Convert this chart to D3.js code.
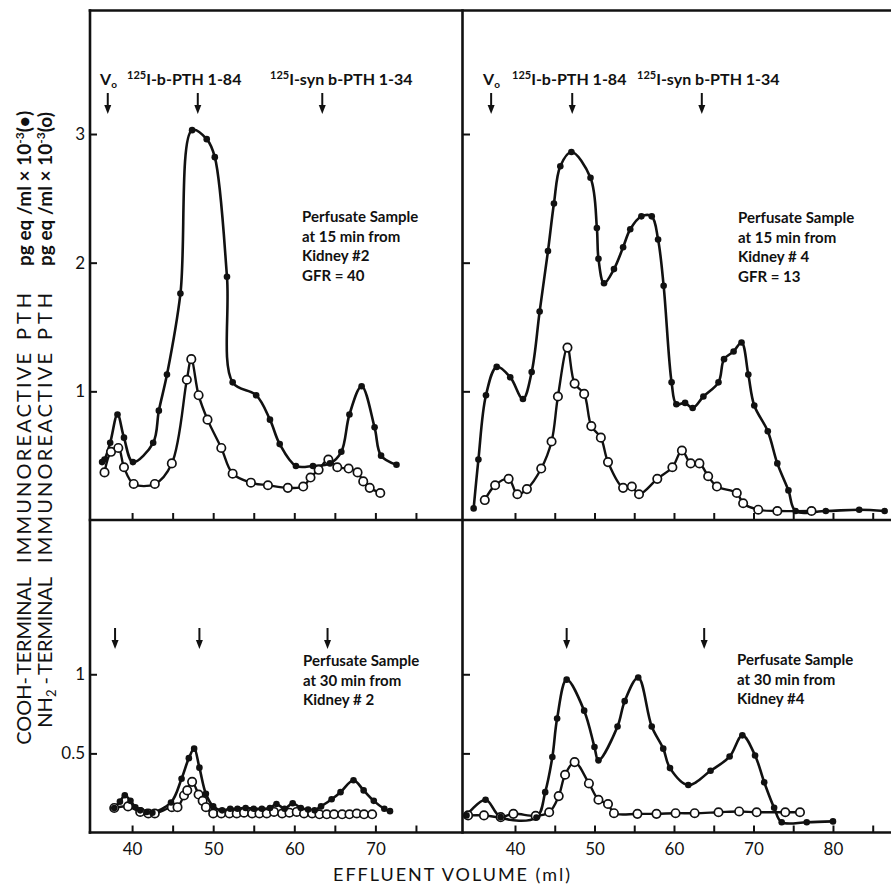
<!DOCTYPE html>
<html>
<head>
<meta charset="utf-8">
<script src="https://cdn.jsdelivr.net/npm/d3@7"></script>
<style>
  body { margin: 0; background: #fff; }
  svg { display: block; }
  text { font-family: Lato, "DejaVu Sans", sans-serif; fill: #111; }
</style>
</head>
<body>
<svg id="chart" width="891" height="884"></svg>
<script>
// values: [effluent volume (ml), pg eq/ml x 10^-3]
// top left: kidney #2, 15 min
var tlCooh = [[36.3,0.45],[36.6,0.47],[37.3,0.60],[38.2,0.82],[39.0,0.64],[40.1,0.45],[42.6,0.60],
  [43.3,0.85],[44.3,1.13],[45.96,1.76],[47.4,3.03],[49.2,2.96],[50.2,2.82],[51.7,1.89],[52.4,1.07],
  [55.3,0.97],[57.0,0.78],[58.2,0.59],[60.2,0.42],[62.3,0.42],[64.4,0.44],[65.8,0.53],[66.8,0.82],
  [68.3,1.04],[69.9,0.72],[70.7,0.50],[72.6,0.43]];
var tlNh2 = [[36.6,0.37],[37.4,0.53],[38.3,0.56],[39.0,0.41],[40.2,0.28],[42.8,0.28],[44.9,0.44],
  [46.75,1.09],[47.3,1.25],[48.2,0.97],[49.3,0.78],[51.0,0.56],[52.4,0.36],[54.65,0.29],[56.75,0.27],
  [59.2,0.25],[61.1,0.26],[62.0,0.33],[63.0,0.39],[64.2,0.47],[65.3,0.41],[66.7,0.40],[67.8,0.37],
  [68.5,0.30],[69.3,0.25],[70.6,0.21]];

// top right: kidney #4, 15 min
var trCooh = [[34.8,0.09],[35.4,0.47],[36.35,0.97],[37.7,1.19],[39.4,1.11],[41.0,0.94],[42.1,1.15],
  [43.1,1.62],[44.15,2.09],[44.9,2.46],[45.7,2.75],[47.1,2.86],[49.5,2.66],[50.3,2.27],[50.5,2.03],
  [51.2,1.84],[52.45,1.95],[53.6,2.12],[54.5,2.26],[55.9,2.36],[57.2,2.36],[58.0,2.18],[58.7,1.82],
  [59.7,1.07],[60.3,0.90],[61.4,0.91],[62.35,0.87],[63.7,0.96],[65.6,1.07],[66.3,1.25],[67.5,1.31],
  [68.5,1.38],[69.35,1.13],[70.1,0.89],[71.8,0.69],[73.0,0.44],[74.4,0.23],[75.3,0.07],[79.1,0.07],
  [83.3,0.08],[86.5,0.07]];
var trNh2 = [[36.2,0.155],[37.5,0.27],[39.2,0.32],[40.3,0.20],[41.5,0.24],[43.3,0.40],[44.6,0.61],
  [45.4,0.96],[46.6,1.34],[47.5,1.06],[48.7,0.98],[49.6,0.73],[50.8,0.64],[51.7,0.45],[53.6,0.25],
  [54.7,0.26],[55.6,0.20],[57.9,0.32],[59.8,0.41],[61.0,0.54],[62.1,0.44],[63.2,0.44],[64.3,0.34],
  [65.4,0.26],[67.9,0.21],[68.7,0.13],[70.6,0.08],[73.0,0.07],[77.3,0.07]];

// bottom left: kidney #2, 30 min
var blCooh = [[37.8,0.155],[38.5,0.195],[39.1,0.235],[39.8,0.20],[40.4,0.16],[41.0,0.14],[41.8,0.13],
  [42.5,0.125],[44.8,0.19],[46.1,0.34],[47.0,0.47],[47.65,0.53],[48.3,0.41],[49.1,0.245],[50.0,0.165],
  [51.1,0.14],[52.1,0.15],[53.0,0.15],[54.0,0.155],[55.0,0.15],[56.0,0.15],[57.0,0.155],[57.8,0.18],
  [58.8,0.15],[59.8,0.185],[60.8,0.155],[61.7,0.145],[62.5,0.14],[63.3,0.165],[64.6,0.21],[65.7,0.255],
  [67.3,0.33],[68.55,0.266],[69.8,0.20],[71.1,0.15],[71.8,0.135]];
var blNh2 = [[37.8,0.155],[39.5,0.165],[41.0,0.13],[42.0,0.12],[42.8,0.12],[44.9,0.16],[45.6,0.16],
  [46.4,0.234],[46.8,0.266],[47.4,0.32],[48.2,0.24],[48.7,0.20],[49.1,0.16],[50.0,0.12],[51.0,0.12],
  [52.0,0.12],[52.9,0.12],[53.8,0.125],[54.8,0.12],[55.7,0.12],[56.6,0.12],[57.5,0.13],[58.5,0.12],
  [59.4,0.125],[60.3,0.13],[61.2,0.12],[62.2,0.12],[63.1,0.115],[64.0,0.115],[64.9,0.115],[65.9,0.115],
  [66.8,0.115],[67.7,0.12],[68.6,0.115],[69.6,0.115]];

// bottom right: kidney #4, 30 min
var brCooh = [[33.9,0.108],[36.3,0.207],[38.2,0.097],[42.7,0.095],[43.8,0.255],[44.7,0.477],[45.3,0.72],
  [46.5,0.966],[48.7,0.77],[50.0,0.54],[50.5,0.456],[52.9,0.67],[53.8,0.83],[55.5,0.98],[57.2,0.67],
  [58.65,0.53],[59.5,0.407],[61.8,0.30],[64.6,0.39],[67.0,0.48],[68.6,0.614],[70.2,0.487],[71.35,0.318],
  [72.6,0.156],[73.55,0.065],[76.7,0.065],[80.0,0.07]];
var brNh2 = [[34.1,0.108],[36.1,0.108],[38.2,0.097],[39.8,0.118],[42.6,0.105],[44.3,0.128],[45.5,0.23],
  [46.3,0.365],[47.5,0.445],[49.3,0.31],[50.5,0.207],[51.7,0.18],[52.45,0.122],[55.4,0.118],[57.8,0.118],
  [60.2,0.122],[62.6,0.122],[65.6,0.128],[68.2,0.133],[70.4,0.128],[74.0,0.128],[75.85,0.128]];

// elution markers (ml)
var tlArrows = [37.0, 48.1, 63.45];
var trArrows = [37.0, 47.2, 63.5];
var blArrows = [37.9, 48.3, 64.1];
var brArrows = [46.5, 63.8];

var xTicksLeft = [40, 45, 50, 55, 60, 65, 70, 75];
var xTicksRight = [40, 45, 50, 55, 60, 65, 70, 75, 80, 85];
var yTicksTop = [1, 2, 3];
var yTicksBottom = [0.5, 1];

var tlNote = ["Perfusate Sample", "at 15 min from", "Kidney #2", "GFR = 40"];
var trNote = ["Perfusate Sample", "at 15 min from", "Kidney # 4", "GFR = 13"];
var blNote = ["Perfusate Sample", "at 30 min from", "Kidney # 2"];
var brNote = ["Perfusate Sample", "at 30 min from", "Kidney #4"];

var svg = d3.select('#chart');

// frame geometry
var frameLeft = 90, frameMid = 462.5, frameRight = 891;
var frameTop = 10.5, frameSplit = 520, frameBottom = 832.5;

var xL = d3.scaleLinear().domain([34.81, 80.74]).range([frameLeft, frameMid]);
var xR = d3.scaleLinear().domain([33.46, 87.3]).range([frameMid + 0.5, frameRight]);
var yT = d3.scaleLinear().domain([0, 3.96]).range([frameSplit, frameTop]);
var yB = d3.scaleLinear().domain([0, 1.975]).range([frameBottom, frameSplit]);

var panels = [
  { x: xL, y: yT, cooh: tlCooh, nh2: tlNh2, arrows: tlArrows, ticks: xTicksLeft, yTicks: yTicksTop,
    base: frameSplit, labels: false, yLabels: true, note: tlNote, noteX: 302, noteY: 222, arrowY: 93 },
  { x: xR, y: yT, cooh: trCooh, nh2: trNh2, arrows: trArrows, ticks: xTicksRight, yTicks: yTicksTop,
    base: frameSplit, labels: false, yLabels: false, note: trNote, noteX: 738, noteY: 223, arrowY: 93 },
  { x: xL, y: yB, cooh: blCooh, nh2: blNh2, arrows: blArrows, ticks: xTicksLeft, yTicks: yTicksBottom,
    base: frameBottom, labels: true, yLabels: true, note: blNote, noteX: 303, noteY: 666, arrowY: 628 },
  { x: xR, y: yB, cooh: brCooh, nh2: brNh2, arrows: brArrows, ticks: xTicksRight, yTicks: yTicksBottom,
    base: frameBottom, labels: true, yLabels: false, note: brNote, noteX: 737, noteY: 665, arrowY: 628 }
];

panels.forEach(function (p) {
  // x axis, ticks pointing up into the panel
  var xa = svg.append('g')
    .attr('transform', 'translate(0,' + p.base + ')')
    .call(d3.axisBottom(p.x).tickValues(p.ticks).tickSize(-7).tickPadding(10)
      .tickFormat(function (d) { return (p.labels && d % 10 === 0) ? d : ''; }));
  xa.select('.domain').remove();
  xa.selectAll('.tick line').attr('stroke', '#111').attr('stroke-width', 2);
  xa.selectAll('.tick text').style('font-size', '17px').attr('fill', '#111');

  // y axis, ticks pointing right
  var ya = svg.append('g')
    .attr('transform', 'translate(' + p.x.range()[0] + ',0)')
    .call(d3.axisLeft(p.y).tickValues(p.yTicks).tickSize(-7).tickPadding(5)
      .tickFormat(function (d) { return p.yLabels ? d : ''; }));
  ya.select('.domain').remove();
  ya.selectAll('.tick line').attr('stroke', '#111').attr('stroke-width', 2);
  ya.selectAll('.tick text').style('font-size', '17px').attr('fill', '#111');

  var line = d3.line()
    .x(function (d) { return p.x(d[0]); })
    .y(function (d) { return p.y(d[1]); })
    .curve(d3.curveCatmullRom.alpha(0.5));

  svg.append('path').datum(p.cooh).attr('d', line)
    .attr('fill', 'none').attr('stroke', '#111').attr('stroke-width', 2.6);
  svg.append('path').datum(p.nh2).attr('d', line)
    .attr('fill', 'none').attr('stroke', '#111').attr('stroke-width', 2.4);

  svg.append('g').selectAll('circle').data(p.nh2).enter().append('circle')
    .attr('cx', function (d) { return p.x(d[0]); })
    .attr('cy', function (d) { return p.y(d[1]); })
    .attr('r', 4.2).attr('fill', '#fff').attr('stroke', '#111').attr('stroke-width', 1.7);
  svg.append('g').selectAll('circle').data(p.cooh).enter().append('circle')
    .attr('cx', function (d) { return p.x(d[0]); })
    .attr('cy', function (d) { return p.y(d[1]); })
    .attr('r', 3.3).attr('fill', '#111');

  // marker arrows
  var ag = svg.append('g').selectAll('g').data(p.arrows).enter().append('g')
    .attr('transform', function (d) { return 'translate(' + p.x(d) + ',' + p.arrowY + ')'; });
  ag.append('line').attr('y1', 0).attr('y2', 16).attr('stroke', '#111').attr('stroke-width', 2);
  ag.append('path').attr('d', 'M-3.5,12L3.5,12L0,21Z').attr('fill', '#111');

  // sample note
  svg.append('g').selectAll('text').data(p.note).enter().append('text')
    .attr('x', p.noteX)
    .attr('y', function (d, i) { return p.noteY + i * 19.5; })
    .style('font-size', '15px').style('font-weight', 700)
    .text(function (d) { return d; });
});

// marker labels above the top panels
function markerLabels(x0, x1, x2) {
  var v = svg.append('text').attr('x', x0).attr('y', 85)
    .style('font-size', '16px').style('font-weight', 700);
  v.append('tspan').text('V');
  v.append('tspan').attr('dy', 3).style('font-size', '10px').text('o');

  [[x1, 'I-b-PTH 1-84'], [x2, 'I-syn b-PTH 1-34']].forEach(function (m) {
    var t = svg.append('text').attr('x', m[0]).attr('y', 85)
      .style('font-size', '16px').style('font-weight', 700);
    t.append('tspan').attr('dy', -6).style('font-size', '11px').text('125');
    t.append('tspan').attr('dy', 6).text(m[1]);
  });
}
markerLabels(100, 127, 270);
markerLabels(483, 512, 637);

// frame
var frame = [
  [frameLeft, frameTop, frameLeft, frameBottom], [frameMid, frameTop, frameMid, frameBottom],
  [frameLeft, frameTop, frameRight, frameTop], [frameLeft, frameSplit, frameRight, frameSplit],
  [frameLeft, frameBottom, frameRight, frameBottom]
];
svg.append('g').selectAll('line').data(frame).enter().append('line')
  .attr('x1', function (d) { return d[0]; }).attr('y1', function (d) { return d[1]; })
  .attr('x2', function (d) { return d[2]; }).attr('y2', function (d) { return d[3]; })
  .attr('stroke', '#111').attr('stroke-width', 2.6).attr('stroke-linecap', 'square');

// x axis title
svg.append('text').attr('x', 333).attr('y', 881)
  .attr('textLength', 237).attr('lengthAdjust', 'spacing')
  .style('font-size', '18px').text('EFFLUENT VOLUME (ml)');

// y axis titles, two rotated lines built from aligned pieces
function yTitle(bx, prefix, sub, dot) {
  var g = svg.append('g').attr('transform', 'translate(' + bx + ',0) rotate(-90)');
  var pre = g.append('text').attr('x', -677).attr('text-anchor', 'end').style('font-size', '20px');
  pre.append('tspan').text(prefix);
  if (sub) {
    pre.append('tspan').attr('dy', 4).style('font-size', '13px').text(sub);
    pre.append('tspan').attr('dy', -4).text(' -');
  } else {
    pre.append('tspan').text('-');
  }
  g.append('text').attr('x', -675).attr('textLength', 98).attr('lengthAdjust', 'spacing')
    .style('font-size', '20px').text('TERMINAL');
  g.append('text').attr('x', -563).attr('textLength', 210).attr('lengthAdjust', 'spacing')
    .style('font-size', '20px').text('IMMUNOREACTIVE');
  g.append('text').attr('x', -340).attr('textLength', 47).attr('lengthAdjust', 'spacing')
    .style('font-size', '20px').text('PTH');
  var u = g.append('text').attr('x', -266).style('font-size', '19px').style('font-weight', 700);
  u.append('tspan').text('pg eq /ml \u00d7 10');
  u.append('tspan').attr('dy', -7).style('font-size', '12px').text('-3');
  u.append('tspan').attr('dy', 7).text('(' + dot + ')');
}
yTitle(31, 'COOH', null, '\u2022');
yTitle(52, 'NH', '2', 'o');
</script>
</body>
</html>
